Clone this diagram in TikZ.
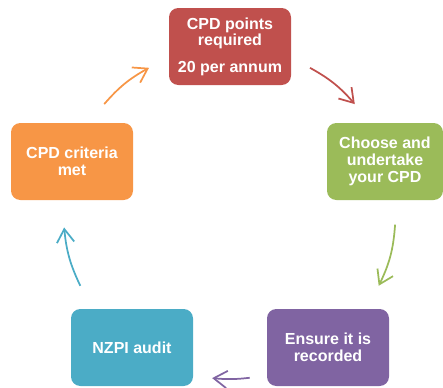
\documentclass[tikz,border=0pt]{standalone}
\usepackage{fontspec}
\setmainfont{Liberation Sans}
\usepackage{tikz}
\usetikzlibrary{arrows.meta}

\definecolor{cpdred}{HTML}{C0504D}
\definecolor{cpdgreen}{HTML}{9BBB59}
\definecolor{cpdpurple}{HTML}{8064A2}
\definecolor{cpdblue}{HTML}{4BACC6}
\definecolor{cpdorange}{HTML}{F79646}

\begin{document}
\begin{tikzpicture}
	[x=0.75pt, y=0.75pt,
	main/.style = {rounded corners=7pt, minimum width=91.5pt, minimum height=57.75pt, align=center, text=white, inner sep=0pt, font=\fontsize{12}{12.6}\selectfont\bfseries},
	arr/.style = {line width=1.3pt, -{Straight Barb[length=10pt, width=13pt]}}]
	\useasboundingbox (0,0) rectangle (443,387);
	\node[main, fill=cpdred] (1) at (230,340.5) {CPD points\\required\\[7pt]20 per annum};
	\node[main, fill=cpdgreen, minimum width=87pt] (2) at (385,225.5) {Choose and\\undertake\\your CPD};
	\node[main, fill=cpdpurple] (3) at (328,39.5) {Ensure it is\\recorded};
	\node[main, fill=cpdblue] (4) at (132,39.5) {NZPI audit};
	\node[main, fill=cpdorange] (5) at (72,225.5) {CPD criteria\\met};
	\coordinate (c) at (229.5,174);
	\path (c) ++(61:166) coordinate (1a);
	\path (c) ++(41:166) coordinate (2b);
	\path (c) ++(-4:166) coordinate (2a);
	\path (c) ++(-26:166) coordinate (3b);
	\path (c) ++(-83:166) coordinate (3a);
	\path (c) ++(-96:166) coordinate (4b);
	\path (c) ++(206:166) coordinate (4a);
	\path (c) ++(185:166) coordinate (5b);
	\path (c) ++(139:166) coordinate (5a);
	\path (c) ++(119:166) coordinate (1b);
	\draw[arr, cpdred] (1a) to[bend left=10] (2b);
	\draw[arr, cpdgreen] (2a) to[bend left=11] (3b);
	\draw[arr, cpdpurple] (3a) to[bend left=6] (4b);
	\draw[arr, cpdblue] (4a) to[bend left=10] (5b);
	\draw[arr, cpdorange] (5a) to[bend left=10] (1b);
\end{tikzpicture}
\end{document}
